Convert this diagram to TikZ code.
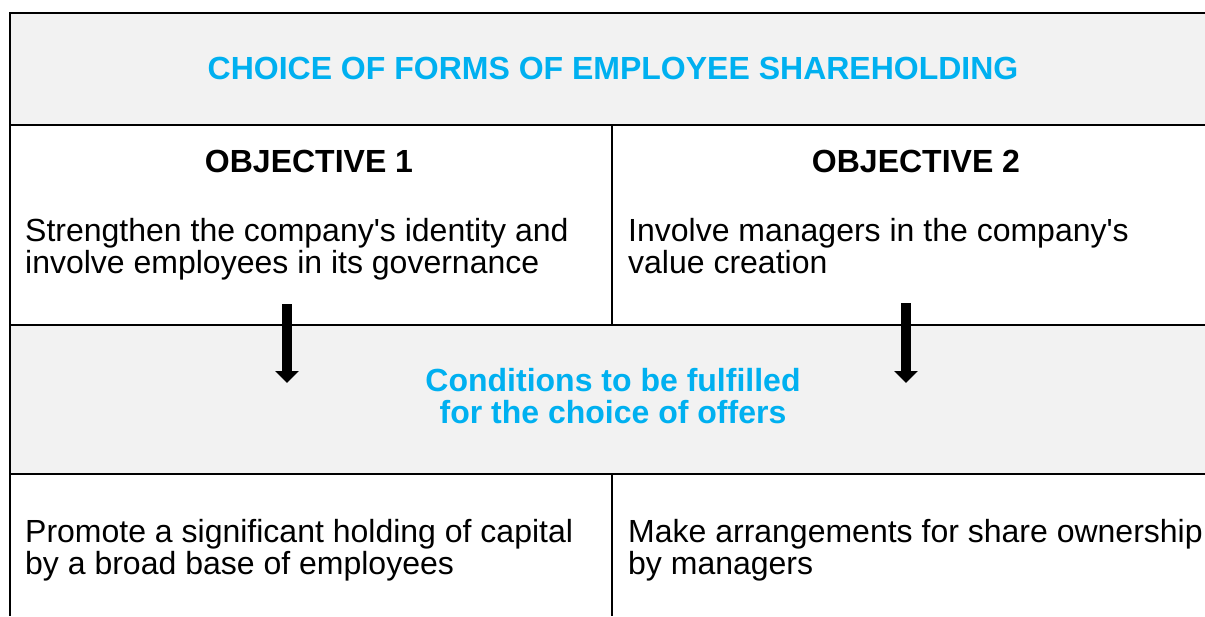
\documentclass[tikz,border=0pt]{standalone}
\usepackage{fontspec}
\newfontfamily\arialfont{Liberation Sans}
\usetikzlibrary{arrows.meta}
\definecolor{titleblue}{HTML}{00B0F0}
\definecolor{cellgray}{HTML}{F2F2F2}
\tikzset{
    txt/.style={inner sep=0pt, font=\arialfont\fontsize{32}{32}\selectfont, align=left},
    head/.style={txt, font=\arialfont\fontsize{32}{32}\selectfont\bfseries, align=center},
    blockarrow/.style={line width=10pt, -{Triangle[width=23pt,length=12pt]}},
}
\begin{document}
\begin{tikzpicture}[x=1pt, y=-1pt]
        \useasboundingbox (0, 0) rectangle (1205, 616);
        \begin{scope}
            \fill [color=cellgray] (10, 13) rectangle (1205, 125);
            \fill [color=cellgray] (10, 325) rectangle (1205, 474);

            \draw [line width=2pt] (1205, 13) -- (10, 13) -- (10, 616);
            \draw [line width=2pt] (10, 125) -- (1205, 125);
            \draw [line width=2pt] (10, 325) -- (1205, 325);
            \draw [line width=2pt] (10, 474) -- (1205, 474);
            \draw [line width=2pt] (612, 125) -- (612, 325);
            \draw [line width=2pt] (612, 474) -- (612, 616);

            \node [head, text=titleblue, anchor=base] (title) at (613, 79) {CHOICE OF FORMS OF EMPLOYEE SHAREHOLDING};
            \node [head, anchor=base] (obj1) at (309, 172) {OBJECTIVE 1};
            \node [head, anchor=base] (obj2) at (916, 172) {OBJECTIVE 2};

            % base anchor of a two-line node sits on its last line
            \node [txt, anchor=base west] (goal1) at (25, 273) {Strengthen the company's identity and\\involve employees in its governance};
            \node [txt, anchor=base west] (goal2) at (628, 273) {Involve managers in the company's\\value creation};

            \node [head, text=titleblue, anchor=base] (cond) at (613, 423) {Conditions to be fulfilled\\for the choice of offers};

            \node [txt, anchor=base west] (offer1) at (25, 574) {Promote a significant holding of capital\\by a broad base of employees};
            \node [txt, anchor=base west] (offer2) at (628, 574) {Make arrangements for share ownership\\by managers};

            \coordinate (a1s) at (287, 304);
            \coordinate (a1e) at (287, 383);
            \coordinate (a2s) at (906, 303);
            \coordinate (a2e) at (906, 383);
            \draw [blockarrow] (a1s) -- (a1e);
            \draw [blockarrow] (a2s) -- (a2e);
        \end{scope}
    \end{tikzpicture}
\end{document}
